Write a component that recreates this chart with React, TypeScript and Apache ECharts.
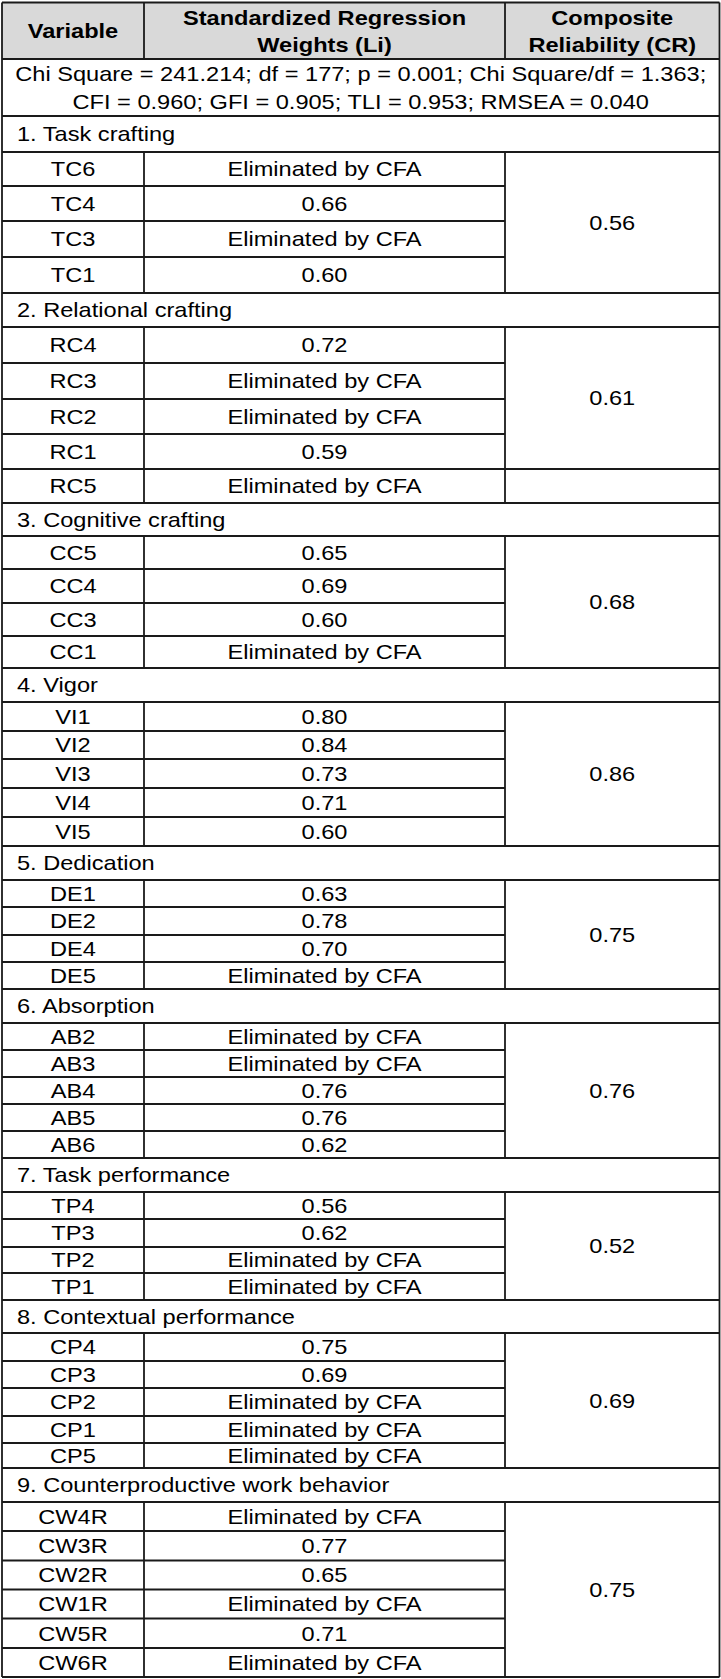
import React, { useEffect, useRef } from "react";
import * as echarts from "echarts";

// ---------- data ----------
const HEADER_VARIABLE = ["Variable"];
const HEADER_LOADING = ["Standardized Regression", "Weights (Li)"];
const HEADER_CR = ["Composite", "Reliability (CR)"];
const FIT_LINES = [
  "Chi Square = 241.214; df = 177; p = 0.001; Chi Square/df = 1.363;",
  "CFI = 0.960; GFI = 0.905; TLI = 0.953; RMSEA = 0.040",
];
const ELIMINATED = "Eliminated by CFA";

const sectionNames = [
  "1. Task crafting",
  "2. Relational crafting",
  "3. Cognitive crafting",
  "4. Vigor",
  "5. Dedication",
  "6. Absorption",
  "7. Task performance",
  "8. Contextual performance",
  "9. Counterproductive work behavior",
];

const itemCodes = [
  ["TC6", "TC4", "TC3", "TC1"],
  ["RC4", "RC3", "RC2", "RC1", "RC5"],
  ["CC5", "CC4", "CC3", "CC1"],
  ["VI1", "VI2", "VI3", "VI4", "VI5"],
  ["DE1", "DE2", "DE4", "DE5"],
  ["AB2", "AB3", "AB4", "AB5", "AB6"],
  ["TP4", "TP3", "TP2", "TP1"],
  ["CP4", "CP3", "CP2", "CP1", "CP5"],
  ["CW4R", "CW3R", "CW2R", "CW1R", "CW5R", "CW6R"],
];

// null = eliminated by CFA
const loadings: (number | null)[][] = [
  [null, 0.66, null, 0.6],
  [0.72, null, null, 0.59, null],
  [0.65, 0.69, 0.6, null],
  [0.8, 0.84, 0.73, 0.71, 0.6],
  [0.63, 0.78, 0.7, null],
  [null, null, 0.76, 0.76, 0.62],
  [0.56, 0.62, null, null],
  [0.75, 0.69, null, null, null],
  [null, 0.77, 0.65, null, 0.71, null],
];

const compositeReliability = [0.56, 0.61, 0.68, 0.86, 0.75, 0.76, 0.52, 0.69, 0.75];
// number of item rows that the merged CR cell spans
const crSpan = [4, 4, 4, 5, 4, 5, 4, 5, 6];

// ---------- layout ----------
const W = 721;
const H = 1679;
const COL_X = [2, 144, 505, 719.5];
const TOP = 2.5;
const HEADER_BOTTOM = 59;
const FIT_BOTTOM = 116;
const SECTION_H = [36, 34, 33, 34, 34, 34, 34, 33, 34];
const ITEM_H = [
  [34, 35, 36, 36],
  [36, 36, 35, 35, 34],
  [33, 34, 33, 32],
  [29, 28, 29, 29, 29],
  [27, 28, 27, 27],
  [27, 27, 27, 27, 27],
  [27, 28, 26, 27],
  [28, 27, 28, 27, 25],
  [29, 29.5, 29, 29, 29.5, 29],
];
const LINE_COLOR = "#1a1a1a";
const LINE_W = 1.8;
const HEADER_BG = "#d9d9d9";
const FONT_FAMILY = '"Liberation Sans", Arial, sans-serif';
const FONT_SIZE = 20;
const SCALE_X = 1.18;
const TEXT_DY = 0.5;

function buildGraphics() {
  const bg: any[] = [];
  const lines: any[] = [];
  const texts: any[] = [];

  const line = (x1: number, y1: number, x2: number, y2: number) =>
    lines.push({
      type: "line",
      silent: true,
      z: 10,
      shape: { x1, y1, x2, y2 },
      style: { stroke: LINE_COLOR, lineWidth: LINE_W },
    });

  const text = (s: string, x: number, y: number, bold = false, align = "center") =>
    texts.push({
      type: "text",
      silent: true,
      z: 20,
      x,
      y: y + TEXT_DY,
      scaleX: SCALE_X,
      style: {
        text: s,
        fill: "#000",
        fontSize: FONT_SIZE,
        fontFamily: FONT_FAMILY,
        fontWeight: bold ? "bold" : "normal",
        align,
        textAlign: align,
        verticalAlign: "middle",
        textVerticalAlign: "middle",
      },
    });

  const [x0, x1, x2, x3] = COL_X;
  const c1 = (x0 + x1) / 2;
  const c2 = (x1 + x2) / 2;
  const c3 = (x2 + x3) / 2;
  const cAll = (x0 + x3) / 2;

  // header background
  bg.push({
    type: "rect",
    silent: true,
    z: 1,
    shape: { x: x0, y: TOP, width: x3 - x0, height: HEADER_BOTTOM - TOP },
    style: { fill: HEADER_BG },
  });

  // header
  line(x0, TOP, x3, TOP);
  line(x0, HEADER_BOTTOM, x3, HEADER_BOTTOM);
  line(x1, TOP, x1, HEADER_BOTTOM);
  line(x2, TOP, x2, HEADER_BOTTOM);
  const hc = (TOP + HEADER_BOTTOM) / 2;
  text(HEADER_VARIABLE[0], c1, hc, true);
  HEADER_LOADING.forEach((s, i) => text(s, c2, hc - 13.5 + i * 27, true));
  HEADER_CR.forEach((s, i) => text(s, c3, hc - 13.5 + i * 27, true));

  // model fit row
  line(x0, FIT_BOTTOM, x3, FIT_BOTTOM);
  const fc = (HEADER_BOTTOM + FIT_BOTTOM) / 2;
  FIT_LINES.forEach((s, i) => text(s, cAll, fc - 14 + i * 28.5));

  // sections
  let y = FIT_BOTTOM;
  sectionNames.forEach((name, si) => {
    const secTop = y;
    const secBottom = secTop + SECTION_H[si];
    text(name, 17, (secTop + secBottom) / 2, false, "left");
    line(x0, secBottom, x3, secBottom);
    y = secBottom;
    const rowTops: number[] = [];
    itemCodes[si].forEach((code, k) => {
      const top = y;
      const bottom = top + ITEM_H[si][k];
      rowTops.push(top);
      const mid = (top + bottom) / 2;
      text(code, c1, mid);
      const v = loadings[si][k];
      text(v === null ? ELIMINATED : v.toFixed(2), c2, mid);
      const isLast = k === itemCodes[si].length - 1;
      if (isLast || k + 1 === crSpan[si]) {
        line(x0, bottom, x3, bottom);
      } else {
        line(x0, bottom, x2, bottom);
      }
      y = bottom;
    });
    rowTops.push(y);
    line(x1, secBottom, x1, y);
    line(x2, secBottom, x2, y);
    const span = crSpan[si];
    const crMid = (rowTops[0] + rowTops[span]) / 2;
    text(compositeReliability[si].toFixed(2), c3, crMid);
  });

  // outer verticals
  line(x0, TOP, x0, y);
  line(x3, TOP, x3, y);

  return [...bg, ...lines, ...texts];
}

export default function App() {
  const ref = useRef<HTMLDivElement>(null);
  useEffect(() => {
    if (!ref.current) return;
    const chart = echarts.init(ref.current, undefined, { renderer: "svg" });
    chart.setOption({
      animation: false,
      backgroundColor: "#ffffff",
      graphic: { elements: buildGraphics() },
    });
    return () => chart.dispose();
  }, []);
  return (
    <div
      ref={ref}
      style={{ position: "absolute", left: 0, top: 0, width: W, height: H, background: "#fff" }}
    />
  );
}
